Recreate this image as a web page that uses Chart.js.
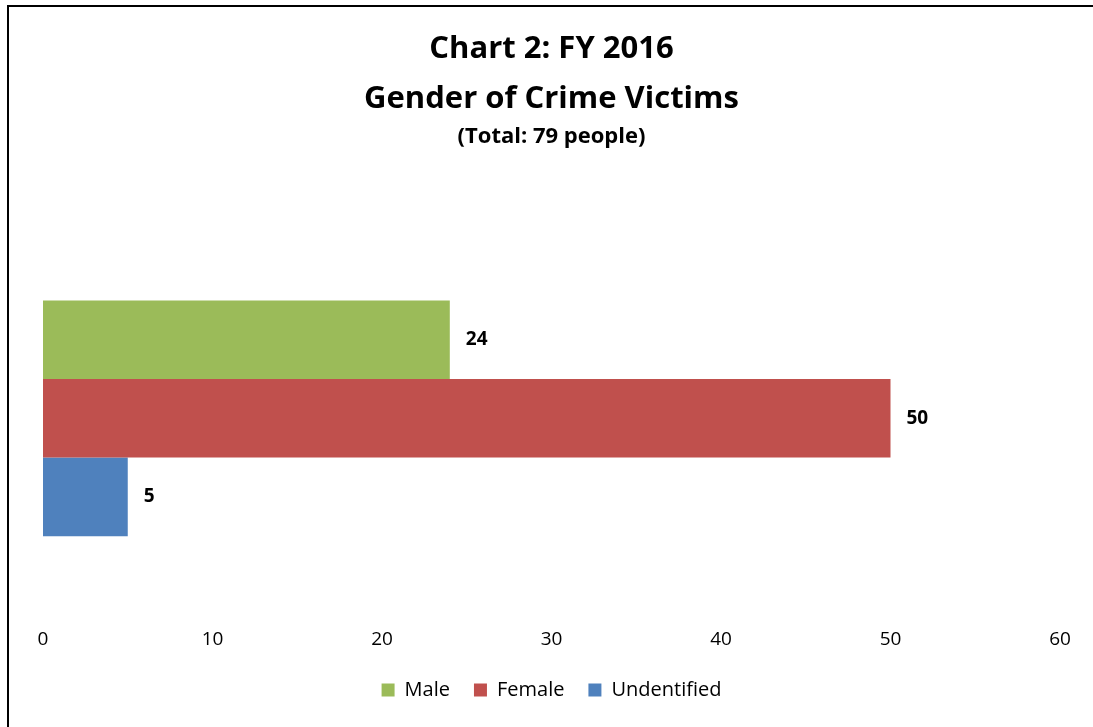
<!DOCTYPE html>
<html>
<head>
<meta charset="utf-8">
<script src="https://cdn.jsdelivr.net/npm/chart.js@4.4.1/dist/chart.umd.min.js"></script>
<style>
	body { margin: 0; background: #fff; overflow: hidden; }
	#wrap { position: absolute; left: 0; top: 0; width: 1093px; height: 727px; }
</style>
</head>
<body>
<div id="wrap"><canvas id="c"></canvas></div>
<script>
const titleLines = ["Chart 2: FY 2016", "Gender of Crime Victims"];
const subtitleText = "(Total: 79 people)";
const categories = [""];
const seriesNames = ["Male", "Female", "Undentified"];
const seriesValues = [[24], [50], [5]];
const seriesColors = ["#9BBB59", "#C0504D", "#4F81BD"];
const xTicks = [0, 60, 10]; // min, max, step

const FONT = "'Open Sans', Lato, sans-serif";

// black frame of the chart object, its right and bottom edges are off the picture
const frame = {
	id: "frame",
	beforeDraw(chart) {
		const ctx = chart.ctx;
		ctx.save();
		ctx.strokeStyle = "#000";
		ctx.lineWidth = 2;
		ctx.beginPath();
		ctx.moveTo(8, chart.height);
		ctx.lineTo(8, 6);
		ctx.lineTo(chart.width, 6);
		ctx.stroke();
		ctx.restore();
	},
};

// value labels to the right of each bar
const barLabels = {
	id: "barLabels",
	afterDatasetsDraw(chart) {
		const ctx = chart.ctx;
		ctx.save();
		ctx.font = "bold 19px " + FONT;
		ctx.fillStyle = "#000";
		ctx.textBaseline = "middle";
		chart.data.datasets.forEach((ds, i) => {
			chart.getDatasetMeta(i).data.forEach((bar, j) => {
				ctx.fillText(ds.data[j], bar.x + 16, bar.y);
			});
		});
		ctx.restore();
	},
};

const datasets = seriesNames.map((name, i) => ({
	label: name,
	data: seriesValues[i],
	backgroundColor: seriesColors[i],
	borderWidth: 0,
	categoryPercentage: 0.584,
	barPercentage: 1.0,
}));

new Chart(document.getElementById("c"), {
	type: "bar",
	data: { labels: categories, datasets: datasets },
	plugins: [frame, barLabels],
	options: {
		indexAxis: "y",
		responsive: true,
		maintainAspectRatio: false,
		animation: false,
		events: [],
		layout: { padding: { left: 43, right: 33, top: 0, bottom: 17 } },
		plugins: {
			title: {
				display: true,
				text: titleLines,
				color: "#000",
				font: { family: FONT, size: 31, weight: "bold", lineHeight: 1.613 },
				padding: { top: 24, bottom: 0 },
			},
			subtitle: {
				display: true,
				text: subtitleText,
				color: "#000",
				font: { family: FONT, size: 22, weight: "bold", lineHeight: 1.2 },
				padding: { top: 0, bottom: 66 },
			},
			legend: {
				position: "bottom",
				labels: {
					color: "#000",
					font: { family: FONT, size: 20 },
					boxWidth: 13,
					boxHeight: 13,
					padding: 24,
				},
			},
			tooltip: { enabled: false },
		},
		scales: {
			x: {
				min: xTicks[0],
				max: xTicks[1],
				ticks: { stepSize: xTicks[2], color: "#000", padding: 0, font: { family: FONT, size: 19 } },
				grid: { display: false },
				border: { display: false },
				afterFit: (axis) => { axis.height += 5; },
			},
			y: {
				display: false,
			},
		},
	},
});
</script>
</body>
</html>
